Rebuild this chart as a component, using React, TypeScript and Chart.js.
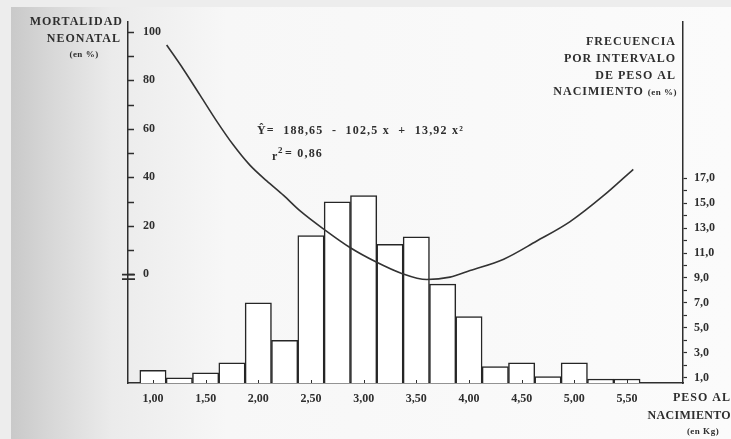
import { useEffect, useRef } from 'react';
import { Chart, registerables } from 'chart.js';

Chart.register(...registerables);

// ---- data ----
const BIN_CENTERS_KG = [1.0, 1.25, 1.5, 1.75, 2.0, 2.25, 2.5, 2.75, 3.0, 3.25, 3.5, 3.75, 4.0, 4.25, 4.5, 4.75, 5.0, 5.25, 5.5];
const FREQ_PCT = [1.6, 1.0, 1.4, 2.2, 7.0, 4.0, 12.4, 15.1, 15.6, 11.7, 12.3, 8.5, 5.9, 1.9, 2.2, 1.1, 2.2, 0.9, 0.9];

const CURVE_X = [1.13, 1.29, 1.45, 1.6, 1.76, 1.92, 2.08, 2.24, 2.4, 2.63, 2.87, 3.12, 3.35, 3.6, 3.82, 4.01, 4.33, 4.64, 4.96, 5.28, 5.56];
const CURVE_Y = [94.6, 84.5, 73.7, 63.5, 53.5, 45.0, 38.5, 32.5, 26.0, 18.3, 11.0, 5.0, 0.5, -2.2, -1.2, 1.5, 6.2, 13.6, 21.7, 32.5, 43.3];

const X_TICKS = [1.0, 1.5, 2.0, 2.5, 3.0, 3.5, 4.0, 4.5, 5.0, 5.5];
const LEFT_TICKS = [0, 10, 20, 30, 40, 50, 60, 70, 80, 90, 100];
const RIGHT_TICKS = [1, 2, 3, 4, 5, 6, 7, 8, 9, 10, 11, 12, 13, 14, 15, 16, 17];

const LEFT_TITLE = ['MORTALIDAD', 'NEONATAL', '(en %)'];
const RIGHT_TITLE = ['FRECUENCIA', 'POR INTERVALO', 'DE PESO AL', 'NACIMIENTO', '(en %)'];
const X_TITLE = ['PESO AL', 'NACIMIENTO', '(en Kg)'];
const EQUATION = 'Ŷ=  188,65  -  102,5 x  +  13,92 x²';
const R2_TEXT = ['r', '2', '= 0,86'];

// axis ranges
const X_MIN = 0.763, X_MAX = 6.032;
const L_MIN = -44.9, L_MAX = 104;
const R_MIN = 0.58, R_MAX = 29.5;

const INK = '#2e2e2e';
const SERIF = '"Liberation Serif", "DejaVu Serif", serif';

function drawText(ctx: CanvasRenderingContext2D, s: string, x: number, y: number, size: number, align: CanvasTextAlign, spacing = '1px') {
  ctx.font = `bold ${size}px ${SERIF}`;
  (ctx as any).letterSpacing = spacing;
  ctx.textAlign = align;
  ctx.textBaseline = 'middle';
  ctx.fillText(s, x, y);
}

const decorPlugin = {
  id: 'decor',
  beforeDraw(chart: any) {
    const { ctx, width, height } = chart;
    ctx.save();
    ctx.fillStyle = '#ededed';
    ctx.fillRect(0, 0, width, height);
    const g = ctx.createLinearGradient(11, 0, width, 0);
    g.addColorStop(0, '#c9c9c9');
    g.addColorStop(0.05, '#d6d6d6');
    g.addColorStop(0.14, '#ebebeb');
    g.addColorStop(0.3, '#f7f7f7');
    g.addColorStop(1, '#fbfbfb');
    ctx.fillStyle = g;
    ctx.fillRect(11, 7, width - 11, height - 7);
    ctx.restore();
  },
  afterDraw(chart: any) {
    const { ctx, scales } = chart;
    const yL = scales.yL, x = scales.x;
    const area = chart.chartArea;
    ctx.save();
    ctx.strokeStyle = INK;
    ctx.fillStyle = INK;
    ctx.lineWidth = 1.5;
    // inner ticks on left axis
    for (const v of LEFT_TICKS) {
      const py = Math.round(yL.getPixelForValue(v)) + 0.5;
      ctx.beginPath();
      ctx.moveTo(area.left, py);
      ctx.lineTo(area.left + 6, py);
      ctx.stroke();
    }
    // break mark at 0
    const p0 = yL.getPixelForValue(0);
    ctx.lineWidth = 1.8;
    ctx.beginPath();
    ctx.moveTo(area.left - 6, p0 + 0.5);
    ctx.lineTo(area.left + 7, p0 + 0.5);
    ctx.moveTo(area.left - 6, p0 + 5);
    ctx.lineTo(area.left + 7, p0 + 5);
    ctx.stroke();
    // small inner ticks on x axis
    ctx.lineWidth = 1;
    for (const v of X_TICKS) {
      const px = Math.round(x.getPixelForValue(v)) + 0.5;
      ctx.beginPath();
      ctx.moveTo(px, area.bottom);
      ctx.lineTo(px, area.bottom - 3);
      ctx.stroke();
    }

    // titles
    drawText(ctx, LEFT_TITLE[0], 123, 22, 12, 'right');
    drawText(ctx, LEFT_TITLE[1], 121, 39, 12, 'right');
    drawText(ctx, LEFT_TITLE[2], 84, 55, 9, 'center', '0.5px');

    drawText(ctx, RIGHT_TITLE[0], 676, 42, 12, 'right');
    drawText(ctx, RIGHT_TITLE[1], 676, 59, 12, 'right');
    drawText(ctx, RIGHT_TITLE[2], 676, 76, 12, 'right');
    ctx.font = `bold 9px ${SERIF}`;
    (ctx as any).letterSpacing = '0.5px';
    const enW = ctx.measureText(RIGHT_TITLE[4]).width;
    drawText(ctx, RIGHT_TITLE[4], 677, 93, 9, 'right', '0.5px');
    drawText(ctx, RIGHT_TITLE[3], 677 - enW - 4, 92, 12, 'right');

    drawText(ctx, X_TITLE[0], 731, 398, 12, 'right');
    drawText(ctx, X_TITLE[1], 731, 416, 12, 'right', '0.3px');
    drawText(ctx, X_TITLE[2], 703, 432, 9, 'center', '0.5px');

    // equation
    drawText(ctx, EQUATION, 257, 131, 12, 'left', '1.2px');
    drawText(ctx, R2_TEXT[0], 272, 157, 12, 'left', '0px');
    drawText(ctx, R2_TEXT[1], 278, 151, 9, 'left', '0px');
    drawText(ctx, R2_TEXT[2], 285, 154, 12, 'left', '1.2px');
    ctx.restore();
  },
};

export default function App() {
  const ref = useRef<HTMLCanvasElement | null>(null);

  useEffect(() => {
    if (!ref.current) return;
    const tickFont = { family: SERIF, size: 12, weight: 'bold' as const };
    const chart = new Chart(ref.current, {
      type: 'bar',
      data: {
        datasets: [
          {
            type: 'line',
            data: CURVE_X.map((v, i) => ({ x: v, y: CURVE_Y[i] })),
            yAxisID: 'yL',
            borderColor: '#333',
            borderWidth: 1.6,
            pointRadius: 0,
            cubicInterpolationMode: 'monotone',
            fill: false,
            order: 1,
          } as any,
          {
            type: 'bar',
            data: BIN_CENTERS_KG.map((v, i) => ({ x: v, y: FREQ_PCT[i] })),
            yAxisID: 'yR',
            backgroundColor: '#ffffff',
            borderColor: '#262626',
            borderWidth: 1.5,
            barPercentage: 1,
            categoryPercentage: 1,
            order: 2,
          } as any,
        ],
      },
      options: {
        responsive: false,
        devicePixelRatio: 1,
        animation: false,
        layout: { padding: { left: 0, right: 0, top: 15, bottom: 0 } },
        plugins: { legend: { display: false }, tooltip: { enabled: false } },
        scales: {
          x: {
            type: 'linear',
            min: X_MIN,
            max: X_MAX,
            offset: false,
            afterBuildTicks: (s: any) => { s.ticks = X_TICKS.map((v) => ({ value: v })); },
            afterFit: (s: any) => { s.height = 56; },
            grid: { display: true, drawOnChartArea: false, drawTicks: false, offset: false },
            border: { display: true, color: INK, width: 1.5 },
            ticks: {
              autoSkip: false,
              maxRotation: 0,
              padding: 9,
              color: INK,
              font: tickFont,
              callback: (v: any) => Number(v).toFixed(2).replace('.', ','),
            },
          },
          yL: {
            type: 'linear',
            position: 'left',
            min: L_MIN,
            max: L_MAX,
            afterBuildTicks: (s: any) => { s.ticks = LEFT_TICKS.map((v) => ({ value: v })); },
            afterFit: (s: any) => { s.width = 128; },
            grid: { display: true, drawOnChartArea: false, drawTicks: false },
            border: { display: true, color: INK, width: 1.5 },
            ticks: {
              mirror: true,
              padding: 15,
              color: INK,
              font: tickFont,
              autoSkip: false,
              callback: (v: any) => (Number(v) % 20 === 0 ? String(v) : ''),
            },
          },
          yR: {
            type: 'linear',
            position: 'right',
            min: R_MIN,
            max: R_MAX,
            afterBuildTicks: (s: any) => { s.ticks = RIGHT_TICKS.map((v) => ({ value: v })); },
            afterFit: (s: any) => { s.width = 48; },
            grid: { display: true, drawOnChartArea: false, drawTicks: true, tickLength: 4, tickColor: INK, tickWidth: 1.2 },
            border: { display: true, color: INK, width: 1.5 },
            ticks: {
              padding: 7,
              color: INK,
              font: tickFont,
              autoSkip: false,
              callback: (v: any) => (Number(v) % 2 === 1 ? Number(v).toFixed(1).replace('.', ',') : ''),
            },
          },
        },
      } as any,
      plugins: [decorPlugin],
    });
    return () => chart.destroy();
  }, []);

  return (
    <div style={{ position: 'absolute', left: 0, top: 0, width: 731, height: 439 }}>
      <canvas ref={ref} width={731} height={439} style={{ display: 'block', width: 731, height: 439 }} />
    </div>
  );
}
